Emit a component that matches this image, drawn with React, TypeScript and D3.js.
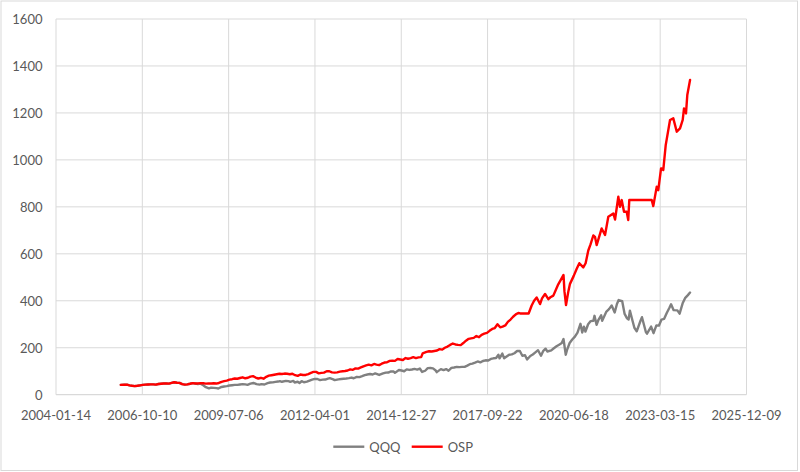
import React from "react";
import * as d3 from "d3";

const xTickLabels = ["2004-01-14","2006-10-10","2009-07-06","2012-04-01","2014-12-27","2017-09-22","2020-06-18","2023-03-15","2025-12-09"];
const yTickValues = [0,200,400,600,800,1000,1200,1400,1600];
const seriesNames = ["QQQ","OSP"];
const seriesColors = ["#808080","#FF0000"];

const qqq: [string, number][] = [
["2006-02-03",42],["2006-03-15",42.5],["2006-04-15",43],["2006-05-15",40],["2006-06-15",38],["2006-07-15",36.5],["2006-08-15",38],["2006-09-15",40],["2006-10-15",42],["2006-11-15",43],["2006-12-15",43.5],
["2007-01-15",44],["2007-02-15",44],["2007-03-15",43],["2007-04-15",45.5],["2007-05-15",46.5],["2007-06-15",47.5],["2007-07-15",48],["2007-08-15",47],["2007-09-15",50],["2007-10-15",53],["2007-11-15",51],["2007-12-15",50.5],
["2008-01-15",45],["2008-02-15",43],["2008-03-15",44],["2008-04-15",46.5],["2008-05-15",49.5],["2008-06-15",47.5],
["2008-07-15",45.5],["2008-08-15",47],["2008-09-15",40],["2008-10-15",32],["2008-11-20",27],["2008-12-15",30],
["2009-01-15",29],["2009-02-15",28],["2009-03-09",26.5],["2009-04-15",33],["2009-05-15",35],["2009-06-15",36.5],["2009-07-15",39],["2009-08-15",40.5],["2009-09-15",42],["2009-10-15",42],["2009-11-15",43.5],["2009-12-15",45],
["2010-01-15",44],["2010-02-10",42],["2010-03-15",47],["2010-04-20",50],["2010-05-25",45],["2010-06-30",43],["2010-07-20",45],["2010-08-25",43.5],["2010-09-30",49],["2010-10-30",52],["2010-11-30",52.5],["2010-12-30",54.5],
["2011-01-30",56],["2011-02-20",58],["2011-03-15",55],["2011-04-30",59],["2011-05-30",58],["2011-06-20",55],["2011-07-25",59],["2011-08-10",52],["2011-09-15",55],["2011-10-05",50],["2011-10-30",57.5],["2011-11-25",53],["2011-12-30",55.5],
["2012-01-30",60],["2012-02-28",64],["2012-03-30",67.5],["2012-04-30",67],["2012-05-30",62],["2012-06-30",64],["2012-07-30",64.5],["2012-08-30",68.5],["2012-09-20",70.5],["2012-10-30",65],["2012-11-15",62],["2012-12-30",65.5],
["2013-01-30",67],["2013-02-28",68],["2013-03-30",69],["2013-04-30",70.5],["2013-05-30",73],["2013-06-25",70],["2013-07-30",76],["2013-08-30",75],["2013-09-30",79],["2013-10-30",83.5],["2013-11-30",86],["2013-12-30",88],
["2014-01-30",86],["2014-02-28",90.5],["2014-04-15",84],["2014-05-30",90.5],["2014-06-30",94],["2014-07-30",94.5],["2014-08-30",99],["2014-09-30",99],["2014-10-15",93],["2014-11-30",105],["2014-12-30",103],
["2015-01-30",100],["2015-02-28",108],["2015-03-30",105.5],["2015-04-30",107.5],["2015-05-30",110],["2015-06-30",107],["2015-07-30",111.5],["2015-08-25",97],["2015-09-30",102],["2015-10-30",113],["2015-11-30",113.5],["2015-12-30",112],
["2016-01-30",103],["2016-02-11",96],["2016-03-30",109],["2016-04-30",105],["2016-05-30",109],["2016-06-27",102],["2016-07-30",114],["2016-08-30",116],["2016-09-30",118.5],["2016-10-30",117.5],["2016-11-30",118.5],["2016-12-30",118.5],
["2017-01-30",124],["2017-02-28",130],["2017-03-30",132.5],["2017-04-30",136.5],["2017-05-30",141.5],["2017-06-30",137.5],["2017-07-30",143.5],["2017-08-30",146.5],["2017-09-30",145.5],["2017-10-30",152.5],["2017-11-30",155],["2017-12-30",156],
["2018-01-26",170],["2018-02-08",155],["2018-03-12",175],["2018-04-02",155],["2018-05-30",170],["2018-06-30",171.5],["2018-07-30",176.5],["2018-08-30",186],["2018-10-01",186],["2018-10-30",166],["2018-11-30",168],["2018-12-24",150],
["2019-01-30",165],["2019-02-28",171],["2019-03-30",180],["2019-04-30",189.5],["2019-06-03",166],["2019-06-30",187],["2019-07-26",196],["2019-08-15",184],["2019-09-30",189],["2019-10-30",198],["2019-11-30",206.5],["2019-12-30",213],
["2020-01-30",220],["2020-02-19",237],["2020-03-16",170],["2020-03-30",190],["2020-04-30",220],["2020-05-30",235],["2020-06-30",247.5],["2020-07-30",264.5],["2020-09-02",302],["2020-09-23",265],["2020-10-12",290],["2020-10-30",269],["2020-11-30",300],["2020-12-30",313.5],
["2021-01-30",315],["2021-02-12",336],["2021-03-08",298],["2021-03-30",319],["2021-04-30",338],["2021-05-12",315],["2021-06-30",354],["2021-07-30",364.5],["2021-08-30",380],["2021-10-04",350],["2021-10-30",386],["2021-11-19",403],["2021-12-30",398],
["2022-01-27",344],["2022-02-24",325],["2022-03-14",320],["2022-03-29",358],["2022-04-30",313],["2022-05-20",285],["2022-06-16",270],["2022-07-30",315],["2022-08-16",330],["2022-09-30",267],["2022-10-13",260],["2022-11-30",290],["2022-12-28",262],
["2023-01-30",295],["2023-02-28",294],["2023-03-30",320],["2023-04-30",323],["2023-05-30",348],["2023-06-30",370],["2023-07-19",385],["2023-08-18",360],["2023-09-30",359],["2023-10-26",345],["2023-11-30",389],["2023-12-28",411],
["2024-01-30",424],["2024-02-24",435]
];

const osp: [string, number][] = [
["2006-02-03",42],["2006-03-15",42.5],["2006-04-15",43],["2006-05-15",40],["2006-06-15",38],["2006-07-15",36.5],["2006-08-15",38],["2006-09-15",40],["2006-10-15",42],["2006-11-15",43],["2006-12-15",43.5],
["2007-01-15",44],["2007-02-15",44],["2007-03-15",43],["2007-04-15",45.5],["2007-05-15",46.5],["2007-06-15",47.5],["2007-07-15",48],["2007-08-15",47],["2007-09-15",50],["2007-10-15",53],["2007-11-15",51],["2007-12-15",50.5],
["2008-01-15",45],["2008-02-15",43],["2008-03-15",44],["2008-04-15",46.5],["2008-05-15",49.5],["2008-06-15",47.5],
["2008-07-15",48],["2008-08-15",49],["2008-09-15",48.5],["2008-10-15",47],["2008-11-15",47.5],["2008-12-15",48],
["2009-01-15",48.5],["2009-02-15",47.5],["2009-03-15",50],["2009-04-15",55],["2009-05-15",58],["2009-06-15",60],["2009-07-15",64],["2009-08-15",66],["2009-09-15",69],["2009-10-15",68],["2009-11-15",71],["2009-12-15",74],
["2010-01-15",70],["2010-02-15",72],["2010-03-15",77],["2010-04-15",79],["2010-05-15",73],["2010-06-15",69],["2010-07-15",72],["2010-08-15",68],["2010-09-15",76],["2010-10-15",81],["2010-11-15",83],["2010-12-15",85],
["2011-01-15",87],["2011-02-15",89],["2011-03-15",88],["2011-04-15",90],["2011-05-15",89],["2011-06-15",87],["2011-07-15",89],["2011-08-15",83],["2011-09-15",80],["2011-10-15",86],["2011-11-15",84],["2011-12-15",84],
["2012-01-15",88],["2012-02-15",93],["2012-03-15",97],["2012-04-15",97],["2012-05-15",91],["2012-06-15",93],["2012-07-15",94],["2012-08-15",100],["2012-09-15",100],["2012-10-15",95],["2012-11-15",94],["2012-12-15",95],
["2013-01-15",98],["2013-02-15",100],["2013-03-15",101],["2013-04-15",103],["2013-05-15",108],["2013-06-15",106],["2013-07-15",112],["2013-08-15",111],["2013-09-15",116],["2013-10-15",121],["2013-11-15",125],["2013-12-15",128],
["2014-01-15",125],["2014-02-15",131],["2014-03-15",128],["2014-04-15",126],["2014-05-15",132],["2014-06-15",137],["2014-07-15",138],["2014-08-15",144],["2014-09-15",145],["2014-10-15",144],["2014-11-15",152],["2014-12-15",150],
["2015-01-15",148],["2015-02-15",156],["2015-03-15",153],["2015-04-15",156],["2015-05-15",160],["2015-06-15",156],["2015-07-15",159],["2015-08-15",160],["2015-09-01",176],["2015-10-15",182],["2015-11-15",185],["2015-12-15",184],
["2016-01-15",186],["2016-02-15",188],["2016-03-15",194],["2016-04-15",192],["2016-05-15",200],["2016-06-15",205],["2016-07-15",212],["2016-08-15",218],["2016-09-15",214],["2016-10-15",212],["2016-11-15",211],["2016-12-15",220],
["2017-01-15",230],["2017-02-15",238],["2017-03-15",240],["2017-04-15",242],["2017-05-15",250],["2017-06-15",245],["2017-07-15",255],["2017-08-15",260],["2017-09-15",263],["2017-10-15",272],["2017-11-15",280],["2017-12-15",284],
["2018-01-15",300],["2018-02-15",287],["2018-03-15",290],["2018-04-15",295],["2018-05-15",310],["2018-06-15",320],["2018-07-15",332],["2018-08-15",342],["2018-09-13",348],["2018-10-05",346],["2019-01-11",346],
["2019-02-15",380],["2019-03-15",400],["2019-04-14",414],["2019-05-23",386],["2019-06-15",410],["2019-07-20",429],["2019-08-27",407],["2019-09-20",415],["2019-10-24",422],["2019-11-20",445],["2019-12-20",470],
["2020-01-20",490],["2020-02-19",510],["2020-03-01",440],["2020-03-19",382],["2020-04-15",440],["2020-05-04",472],["2020-06-15",505],["2020-07-21",536],["2020-08-20",560],["2020-10-05",542],["2020-11-01",560],["2020-12-02",614],["2020-12-28",640],
["2021-01-29",678],["2021-02-18",672],["2021-03-09",637],["2021-05-06",708],["2021-06-14",680],["2021-07-22",758],["2021-09-18",772],["2021-10-08",746],["2021-11-15",843],["2021-12-04",800],["2021-12-24",829],
["2022-01-20",779],["2022-02-20",779],["2022-03-10",744],["2022-03-22",829],["2022-12-07",829],["2022-12-25",803],
["2023-02-03",886],["2023-02-21",871],["2023-03-25",964],["2023-04-20",957],["2023-05-18",1063],["2023-07-07",1170],["2023-08-14",1177],["2023-09-23",1120],["2023-10-31",1134],["2023-12-01",1170],["2023-12-16",1219],
["2024-01-08",1198],["2024-01-23",1276],["2024-02-24",1340]
];

const parse = d3.utcParse("%Y-%m-%d");

export default function App() {
  const W = 800, H = 472;
  const left = 56, right = 746.5, top = 19, bottom = 394.7;
  const x = d3.scaleUtc()
    .domain([parse(xTickLabels[0])!, parse(xTickLabels[xTickLabels.length - 1])!])
    .range([left, right]);
  const y = d3.scaleLinear().domain([0, 1600]).range([bottom, top]);
  const line = d3.line<[string, number]>()
    .x(d => x(parse(d[0])!))
    .y(d => y(d[1]))
    .curve(d3.curveLinear);
  const font = "Lato, 'Open Sans', sans-serif";
  const txt = "#595959";
  const grid = "#d9d9d9";
  const series = [qqq, osp];
  const legendX = [333.3, 411.7];
  return (
    <svg width={W} height={H} style={{ position: "absolute", left: 0, top: 0, background: "#fff" }}>
      <rect x={0} y={0} width={W} height={H} fill="#fff" />
      <rect x={1} y={1} width={796.5} height={469.5} fill="none" stroke={grid} strokeWidth={1} />
      {yTickValues.map(v => (
        <line key={"gy" + v} x1={left} x2={right} y1={y(v)} y2={y(v)} stroke={v === 0 ? "#d0d0d0" : grid} strokeWidth={1} />
      ))}
      {xTickLabels.map(t => (
        <line key={"gx" + t} x1={x(parse(t)!)} x2={x(parse(t)!)} y1={top} y2={bottom} stroke={grid} strokeWidth={1} />
      ))}
      {yTickValues.map(v => (
        <text key={"ty" + v} x={42.5} y={y(v)} textAnchor="end" dominantBaseline="central" fontFamily={font} fontSize={13} fill={txt}>{v}</text>
      ))}
      {xTickLabels.map(t => (
        <text key={"tx" + t} x={x(parse(t)!)} y={414.5} textAnchor="middle" dominantBaseline="central" fontFamily={font} fontSize={13} fill={txt}>{t}</text>
      ))}
      {series.map((s, i) => (
        <path key={"s" + i} d={line(s) || ""} fill="none" stroke={seriesColors[i]} strokeWidth={2.4} strokeLinejoin="round" strokeLinecap="round" />
      ))}
      {seriesNames.map((n, i) => (
        <g key={"lg" + n}>
          <line x1={legendX[i]} x2={legendX[i] + 31} y1={446.7} y2={446.7} stroke={seriesColors[i]} strokeWidth={2.4} />
          <text x={legendX[i] + 36} y={446.7} dominantBaseline="central" fontFamily={font} fontSize={13} fill={txt}>{n}</text>
        </g>
      ))}
    </svg>
  );
}
